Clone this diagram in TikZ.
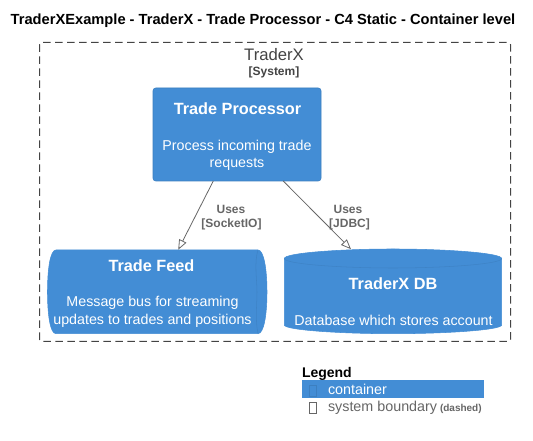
\documentclass[tikz,border=0pt]{standalone}
\usepackage{fontspec}
\setmainfont{Liberation Sans}
\usetikzlibrary{arrows.meta}
\definecolor{cblue}{HTML}{438DD5}
\definecolor{cedge}{HTML}{3C7FC0}
\definecolor{cgray}{HTML}{666666}
\definecolor{cdark}{HTML}{444444}
\tikzset{
  x=0.75pt,y=-0.75pt,
  lbl/.style={inner sep=0,outer sep=0,anchor=base,align=center},
  head/.style={lbl,text=white,font=\fontsize{12.2}{14}\selectfont\bfseries},
  desc/.style={lbl,text=white,font=\fontsize{10.7}{12.75}\selectfont},
  edge/.style={lbl,text=cgray,font=\fontsize{9}{10.5}\selectfont\bfseries},
  solidshape/.style={fill=cblue,draw=cedge,line width=0.4pt},
  rel/.style={draw=cgray,line width=0.6pt,-{Triangle[open,fill=white,length=7.5pt,width=6pt]}},
}
\begin{document}
\begin{tikzpicture}
\useasboundingbox (0,0) rectangle (533,441);
\fill[white] (0,0) rectangle (533,441);
% boundary
\draw[cdark,line width=0.75pt,dash pattern=on 5.6pt off 3.4pt,rounded corners=1.5pt] (39.5,42.5) rectangle (510.5,341.5);
% shapes
\node[solidshape,rounded corners=2pt,inner sep=0,outer sep=0,minimum width=126pt,minimum height=69.75pt] (proc) at (237,134.5) {};
\path[solidshape,draw=cblue] (56,250) -- (258,250) .. controls (264,250) and (267,270) .. (267,292) .. controls (267,314) and (264,333.7) .. (258,333.7) -- (56,333.7) .. controls (50,333.7) and (47.5,314) .. (47.5,292) .. controls (47.5,270) and (50,250) .. (56,250) -- cycle;
\draw[cedge!70!cblue,line width=0.4pt] (258,250) .. controls (254,262) and (257,280) .. (257,292) .. controls (257,304) and (255,320) .. (258,333.7);
\node[inner sep=0,outer sep=0,minimum width=165pt,minimum height=62.6pt] (feed) at (157,291.5) {};
\path[solidshape,draw=cblue] (284.3,258.5) .. controls (284.3,253) and (340,249) .. (393,249) .. controls (446,249) and (501.7,253) .. (501.7,258.5) -- (501.7,325) .. controls (501.7,330) and (446,333.7) .. (393,333.7) .. controls (340,333.7) and (284.3,330) .. (284.3,325) -- cycle;
\draw[cedge!70!cblue,line width=0.4pt] (284.3,258.5) .. controls (284.3,264) and (340,268) .. (393,268) .. controls (446,268) and (501.7,264) .. (501.7,258.5);
\node[inner sep=0,outer sep=0,minimum width=163pt,minimum height=63.5pt] (db) at (393,291.5) {};
% connectors
\draw[rel] (proc) -- (feed);
\draw[rel] (proc) -- (db);
% texts
\node[lbl,text=cdark,font=\fontsize{12.5}{14}\selectfont] (bt) at (274,61) {TraderX};
\node[lbl,text=cdark,font=\fontsize{9}{10}\selectfont\bfseries] (bs) at (274,76) {[System]};
\node[lbl,font=\fontsize{11}{12}\selectfont\bfseries] (title) at (263,25) {TraderXExample - TraderX - Trade Processor - C4 Static - Container level};
\node[head] (p1) at (237.5,115) {Trade Processor};
\node[desc] (p2) at (237,151) {Process incoming trade};
\node[desc] (p3) at (237,168) {requests};
\node[head] (f1) at (151.5,272) {Trade Feed};
\node[desc] (f2) at (152.5,307) {Message bus for streaming};
\node[desc] (f3) at (152.5,325) {updates to trades and positions};
\node[head] (d1) at (393,290) {TraderX DB};
\node[desc] (d2) at (393.5,326) {Database which stores account};
\node[edge] (u1) at (231,213.5) {Uses};
\node[edge] (u2) at (231.5,228) {[SocketIO]};
\node[edge] (u3) at (348,213.5) {Uses};
\node[edge] (u4) at (349.5,228) {[JDBC]};
% legend
\node[lbl,anchor=base west,font=\fontsize{10.5}{12}\selectfont\bfseries] (lg) at (302,378) {Legend};
\node[fill=cblue,inner sep=0,outer sep=0,minimum width=136.5pt,minimum height=13.5pt] (lbar) at (393,389) {};
\draw[cedge,line width=0.5pt] (309.5,385) rectangle (316.7,396);
\node[lbl,anchor=base west,text=white,font=\fontsize{10.75}{12}\selectfont] (l1) at (328,395) {container};
\draw[cgray,line width=0.6pt] (309.5,402.5) rectangle (316.7,413.5);
\node[lbl,anchor=base west,text=cgray,font=\fontsize{10.75}{12}\selectfont] (l2) at (328,412) {system boundary};
\node[lbl,anchor=base west,text=cgray,font=\fontsize{7.5}{9}\selectfont\bfseries] (l3) at (440,412) {(dashed)};
\end{tikzpicture}
\end{document}
